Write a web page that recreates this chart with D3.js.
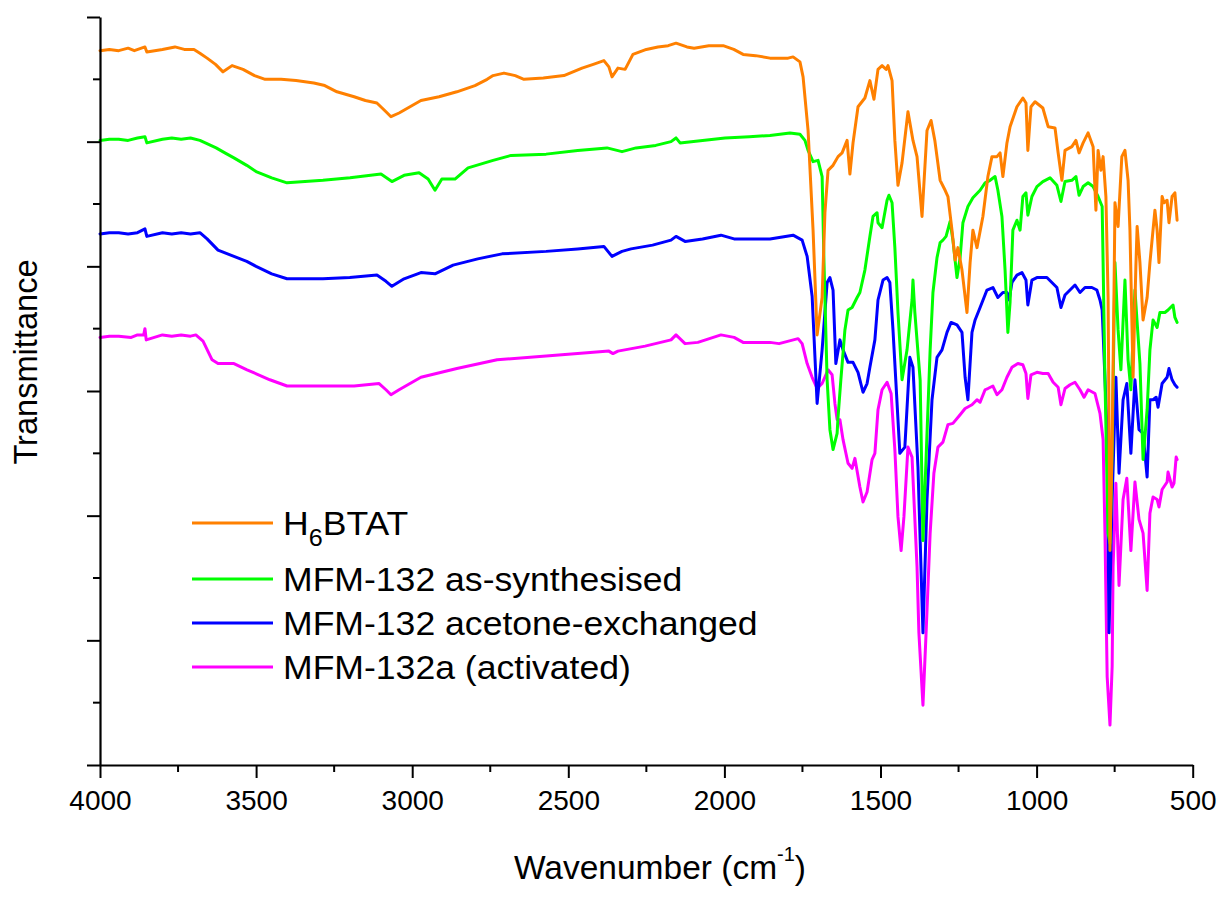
<!DOCTYPE html>
<html>
<head>
<meta charset="utf-8">
<script src="https://cdn.jsdelivr.net/npm/d3@7"></script>
<style>
  html, body { margin: 0; padding: 0; background: #fff; }
  svg { display: block; }
  text { font-family: "Liberation Sans", Arial, sans-serif; fill: #000; }
</style>
</head>
<body>
<svg id="chart" width="1222" height="899"></svg>
<script>
// ---------------- DATA ----------------
const seriesNames = ["H6BTAT", "MFM-132 as-synthesised", "MFM-132 acetone-exchanged", "MFM-132a (activated)"];
const xTickValues = [4000, 3500, 3000, 2500, 2000, 1500, 1000, 500];
const xMinorTickValues = [3750, 3250, 2750, 2250, 1750, 1250, 750];
const yTickValues = [0, 1, 2, 3, 4, 5, 6];
const yMinorTickValues = [0.5, 1.5, 2.5, 3.5, 4.5, 5.5];

// [wavenumber (cm-1), transmittance (offset, arbitrary units)]
const h6btat = [[4000,5.73],[3970,5.74],[3940,5.73],[3910,5.75],[3890,5.73],[3856,5.76],[3850,5.72],[3800,5.74],[3760,5.76],[3730,5.74],[3699,5.74],[3680,5.71],[3657,5.67],[3630,5.62],[3606,5.56],[3577,5.61],[3542,5.58],[3505,5.53],[3471,5.50],[3420,5.50],[3372,5.49],[3315,5.47],[3280,5.45],[3241,5.40],[3186,5.36],[3150,5.33],[3113,5.31],[3084,5.24],[3068,5.20],[3042,5.23],[3000,5.29],[2972,5.33],[2914,5.36],[2857,5.40],[2799,5.45],[2760,5.50],[2741,5.53],[2706,5.55],[2670,5.53],[2642,5.50],[2580,5.51],[2514,5.53],[2456,5.59],[2420,5.62],[2386,5.65],[2370,5.60],[2360,5.52],[2341,5.59],[2318,5.58],[2293,5.70],[2250,5.74],[2213,5.76],[2180,5.77],[2155,5.79],[2120,5.76],[2097,5.75],[2050,5.77],[2004,5.77],[1970,5.74],[1940,5.70],[1900,5.69],[1854,5.67],[1796,5.67],[1780,5.68],[1758,5.64],[1748,5.52],[1732,5.09],[1716,4.29],[1703,3.45],[1687,3.75],[1678,4.43],[1668,4.77],[1652,4.81],[1636,4.88],[1623,4.91],[1607,5.01],[1598,4.74],[1588,4.99],[1572,5.28],[1550,5.35],[1534,5.49],[1521,5.34],[1508,5.58],[1495,5.61],[1482,5.58],[1476,5.61],[1463,5.49],[1454,5.01],[1444,4.65],[1431,4.83],[1412,5.24],[1396,5.01],[1383,4.88],[1367,4.40],[1351,5.09],[1338,5.17],[1326,5.01],[1309,4.69],[1293,4.61],[1284,4.56],[1271,4.29],[1261,4.05],[1252,4.15],[1239,3.97],[1223,3.63],[1213,4.03],[1204,4.29],[1191,4.15],[1172,4.40],[1156,4.72],[1143,4.88],[1127,4.88],[1117,4.91],[1108,4.72],[1095,4.99],[1085,5.12],[1063,5.28],[1044,5.35],[1034,5.31],[1028,4.93],[1018,5.28],[1005,5.32],[980,5.27],[963,5.12],[941,5.11],[931,4.91],[919,4.69],[909,4.93],[887,4.96],[874,5.01],[864,4.91],[851,4.99],[835,5.07],[819,4.96],[810,4.45],[803,4.93],[794,4.77],[787,4.88],[778,4.56],[771,3.75],[765,1.72],[758,2.60],[752,3.80],[749,4.51],[739,4.32],[727,4.88],[717,4.93],[707,4.69],[701,4.29],[691,3.11],[682,4.00],[678,4.32],[669,4.03],[659,3.57],[646,3.75],[637,4.03],[621,4.45],[614,4.29],[608,4.03],[598,4.56],[592,4.51],[582,4.53],[576,4.35],[566,4.56],[557,4.59],[550,4.37]];

const asSynthesised = [[4000,5.01],[3970,5.02],[3940,5.02],[3910,5.01],[3880,5.03],[3856,5.04],[3850,4.99],[3800,5.02],[3770,5.03],[3740,5.02],[3710,5.03],[3680,5.01],[3628,4.95],[3600,4.91],[3571,4.87],[3530,4.81],[3500,4.76],[3450,4.71],[3401,4.67],[3286,4.69],[3199,4.71],[3100,4.74],[3065,4.68],[3026,4.73],[2978,4.75],[2949,4.70],[2927,4.61],[2905,4.70],[2863,4.70],[2821,4.79],[2741,4.85],[2683,4.89],[2571,4.90],[2470,4.93],[2376,4.95],[2328,4.92],[2283,4.95],[2220,4.97],[2171,5.00],[2155,5.03],[2142,4.99],[2070,5.01],[1998,5.03],[1920,5.04],[1854,5.05],[1790,5.07],[1758,5.06],[1742,5.01],[1732,4.93],[1716,4.84],[1700,4.85],[1687,4.72],[1681,4.03],[1671,3.09],[1662,2.69],[1652,2.53],[1639,2.66],[1636,2.79],[1627,3.09],[1614,3.49],[1604,3.65],[1591,3.67],[1575,3.75],[1566,3.79],[1550,3.97],[1534,4.24],[1524,4.40],[1511,4.43],[1508,4.35],[1495,4.31],[1479,4.53],[1473,4.57],[1463,4.51],[1454,4.15],[1444,3.63],[1431,3.09],[1415,3.33],[1399,3.73],[1396,3.89],[1390,3.63],[1373,3.09],[1364,1.80],[1351,2.66],[1341,3.33],[1332,3.79],[1319,4.07],[1309,4.19],[1300,4.21],[1290,4.24],[1277,4.36],[1268,4.21],[1255,3.91],[1245,4.07],[1236,4.35],[1220,4.48],[1204,4.55],[1181,4.61],[1165,4.67],[1149,4.69],[1133,4.72],[1124,4.61],[1111,4.40],[1101,3.97],[1092,3.47],[1085,3.71],[1076,4.29],[1063,4.37],[1053,4.29],[1044,4.56],[1034,4.59],[1028,4.41],[1015,4.56],[999,4.64],[980,4.68],[957,4.71],[935,4.65],[922,4.52],[909,4.68],[887,4.69],[874,4.72],[864,4.57],[851,4.64],[835,4.67],[819,4.64],[803,4.56],[790,4.48],[787,4.03],[781,3.09],[771,1.86],[765,1.78],[758,2.53],[749,4.03],[739,3.49],[730,3.17],[717,3.89],[707,3.25],[698,3.01],[685,3.81],[669,3.22],[659,2.45],[646,2.85],[637,3.33],[627,3.57],[614,3.51],[605,3.63],[589,3.63],[579,3.65],[563,3.69],[557,3.59],[550,3.55]];

const acetoneExchanged = [[4000,4.26],[3970,4.27],[3940,4.27],[3910,4.26],[3880,4.27],[3856,4.30],[3850,4.24],[3800,4.27],[3770,4.26],[3740,4.27],[3710,4.26],[3680,4.27],[3657,4.22],[3622,4.13],[3571,4.08],[3530,4.04],[3500,4.00],[3450,3.94],[3401,3.90],[3286,3.90],[3200,3.91],[3113,3.93],[3084,3.88],[3065,3.84],[3026,3.90],[2972,3.95],[2927,3.94],[2869,4.01],[2790,4.06],[2712,4.10],[2571,4.12],[2470,4.14],[2386,4.16],[2360,4.08],[2328,4.12],[2299,4.14],[2230,4.17],[2171,4.21],[2155,4.24],[2126,4.20],[2070,4.22],[2011,4.25],[1969,4.22],[1900,4.22],[1854,4.22],[1780,4.25],[1751,4.21],[1735,4.08],[1719,3.76],[1703,2.90],[1687,3.33],[1671,3.87],[1662,3.91],[1652,3.81],[1643,3.22],[1630,3.41],[1620,3.33],[1604,3.23],[1588,3.23],[1572,3.15],[1556,2.99],[1543,3.06],[1534,3.19],[1518,3.41],[1508,3.73],[1492,3.89],[1479,3.91],[1470,3.87],[1460,3.49],[1438,2.50],[1422,2.55],[1406,3.27],[1396,3.19],[1380,2.39],[1364,1.06],[1351,2.13],[1335,2.93],[1319,3.27],[1303,3.33],[1287,3.47],[1274,3.55],[1255,3.53],[1239,3.47],[1229,3.11],[1220,2.93],[1207,3.47],[1197,3.57],[1181,3.67],[1159,3.81],[1140,3.83],[1124,3.75],[1108,3.79],[1095,3.79],[1088,3.73],[1079,3.87],[1063,3.93],[1047,3.95],[1034,3.89],[1028,3.69],[1015,3.89],[999,3.91],[967,3.91],[935,3.83],[922,3.67],[909,3.77],[893,3.81],[877,3.85],[861,3.79],[845,3.83],[823,3.83],[807,3.81],[797,3.73],[790,3.65],[787,3.47],[774,2.66],[768,1.06],[758,2.13],[746,3.11],[736,2.34],[723,2.93],[711,3.06],[698,2.50],[685,3.09],[672,2.69],[659,2.66],[646,2.31],[637,2.93],[627,2.93],[617,2.95],[611,2.87],[598,3.06],[582,3.11],[576,3.18],[566,3.09],[557,3.05],[550,3.03]];

const activated = [[4000,3.43],[3970,3.44],[3940,3.44],[3900,3.43],[3880,3.45],[3860,3.45],[3856,3.50],[3852,3.41],[3800,3.45],[3770,3.44],[3740,3.45],[3710,3.44],[3693,3.45],[3670,3.40],[3641,3.25],[3622,3.22],[3571,3.22],[3529,3.17],[3456,3.09],[3401,3.04],[3286,3.04],[3186,3.04],[3106,3.06],[3084,3.01],[3068,2.97],[3042,3.01],[2972,3.11],[2857,3.18],[2728,3.25],[2571,3.28],[2470,3.30],[2370,3.32],[2357,3.30],[2341,3.32],[2254,3.36],[2171,3.41],[2155,3.45],[2126,3.38],[2085,3.39],[2011,3.45],[1969,3.43],[1940,3.39],[1854,3.39],[1825,3.38],[1764,3.42],[1751,3.38],[1735,3.22],[1719,3.11],[1703,3.02],[1687,3.06],[1668,3.17],[1655,3.13],[1646,2.90],[1639,2.77],[1630,2.77],[1620,2.61],[1604,2.42],[1591,2.38],[1582,2.46],[1566,2.23],[1556,2.11],[1543,2.19],[1527,2.45],[1518,2.50],[1508,2.85],[1495,3.01],[1479,3.07],[1466,2.98],[1454,2.53],[1444,1.99],[1434,1.72],[1425,1.99],[1412,2.55],[1399,2.47],[1383,1.59],[1377,1.06],[1364,0.48],[1354,1.06],[1341,1.86],[1329,2.34],[1316,2.55],[1300,2.59],[1284,2.73],[1268,2.74],[1245,2.81],[1229,2.86],[1207,2.89],[1191,2.93],[1181,2.91],[1165,3.01],[1156,3.02],[1140,3.04],[1127,2.97],[1111,3.01],[1095,3.11],[1079,3.19],[1060,3.22],[1044,3.21],[1034,3.14],[1028,2.94],[1018,3.13],[999,3.15],[980,3.14],[963,3.14],[947,3.07],[931,3.03],[922,2.89],[909,3.02],[893,3.05],[877,3.07],[861,3.01],[848,2.95],[835,3.01],[813,2.98],[797,2.82],[787,2.61],[781,1.86],[774,0.71],[765,0.32],[758,0.79],[755,1.59],[746,2.26],[736,1.44],[723,2.13],[711,2.30],[698,1.72],[685,2.27],[672,1.97],[659,1.86],[646,1.40],[637,2.02],[627,2.15],[614,2.13],[608,2.07],[598,2.21],[582,2.27],[579,2.35],[566,2.23],[560,2.26],[553,2.47],[550,2.45]];

// ---------------- STYLE ----------------
const seriesColors = ["#FF8000", "#00FF00", "#0000FF", "#FF00FF"];
const allSeries = [h6btat, asSynthesised, acetoneExchanged, activated];

// ---------------- CHART ----------------
const svg = d3.select("#chart");
svg.append("rect").attr("width", 1222).attr("height", 899).attr("fill", "#fff");

const x = d3.scaleLinear().domain([4000, 500]).range([100, 1192.7]);
const y = d3.scaleLinear().domain([0, 6]).range([765, 17]);

const line = d3.line().x(d => x(d[0])).y(d => y(d[1]));

// draw order: activated at bottom, orange on top
const drawOrder = [3, 2, 1, 0];
const plot = svg.append("g");
drawOrder.forEach(i => {
  plot.append("path")
    .datum(allSeries[i])
    .attr("fill", "none")
    .attr("stroke", seriesColors[i])
    .attr("stroke-width", 3)
    .attr("stroke-linejoin", "round")
    .attr("stroke-linecap", "round")
    .attr("d", line);
});

// X axis
const xAxis = d3.axisBottom(x).tickValues(xTickValues).tickSize(13).tickSizeOuter(0).tickPadding(12)
  .tickFormat(d3.format("d"));
const gx = svg.append("g").attr("transform", "translate(0,765)").call(xAxis);
gx.selectAll(".tick text").attr("font-size", 28).attr("font-family", "'Liberation Sans', Arial, sans-serif").attr("fill", "#000");
gx.selectAll(".tick line").attr("stroke", "#000").attr("stroke-width", 2);
gx.select(".domain").attr("stroke", "#000").attr("stroke-width", 2.2);
const gxm = svg.append("g").attr("transform", "translate(0,765)");
gxm.selectAll("line").data(xMinorTickValues).join("line")
  .attr("x1", d => x(d)).attr("x2", d => x(d)).attr("y1", 0).attr("y2", 7)
  .attr("stroke", "#000").attr("stroke-width", 2);

// Y axis
const yAxis = d3.axisLeft(y).tickValues(yTickValues).tickSize(13).tickSizeOuter(0).tickFormat("");
const gy = svg.append("g").attr("transform", "translate(100,0)").call(yAxis);
gy.selectAll(".tick line").attr("stroke", "#000").attr("stroke-width", 2);
gy.select(".domain").attr("stroke", "#000").attr("stroke-width", 2.2);
const gym = svg.append("g").attr("transform", "translate(100,0)");
gym.selectAll("line").data(yMinorTickValues).join("line")
  .attr("x1", 0).attr("x2", -7).attr("y1", d => y(d)).attr("y2", d => y(d))
  .attr("stroke", "#000").attr("stroke-width", 2);

// Axis titles
const xt = svg.append("text").attr("x", 660).attr("y", 879).attr("text-anchor", "middle").attr("font-size", 33.5);
xt.append("tspan").text("Wavenumber (cm");
xt.append("tspan").attr("font-size", 20).attr("dy", -18).text("-1");
xt.append("tspan").attr("dy", 18).text(")");

svg.append("text").attr("transform", "translate(37,362) rotate(-90)")
  .attr("text-anchor", "middle").attr("font-size", 32.6).text("Transmittance");

// Legend
const legendY = [523, 579, 623, 667];
const legend = svg.append("g");
seriesNames.forEach((name, i) => {
  legend.append("line").attr("x1", 192).attr("x2", 273).attr("y1", legendY[i]).attr("y2", legendY[i])
    .attr("stroke", seriesColors[i]).attr("stroke-width", 3);
  const t = legend.append("text").attr("transform", `translate(283,${legendY[i] + 12}) scale(1.095,1)`)
    .attr("font-size", 32.5);
  if (i === 0) {
    t.append("tspan").text("H");
    t.append("tspan").attr("font-size", 23).attr("dy", 11).text("6");
    t.append("tspan").attr("dy", -11).text("BTAT");
  } else {
    t.text(name);
  }
});
</script>
</body>
</html>
